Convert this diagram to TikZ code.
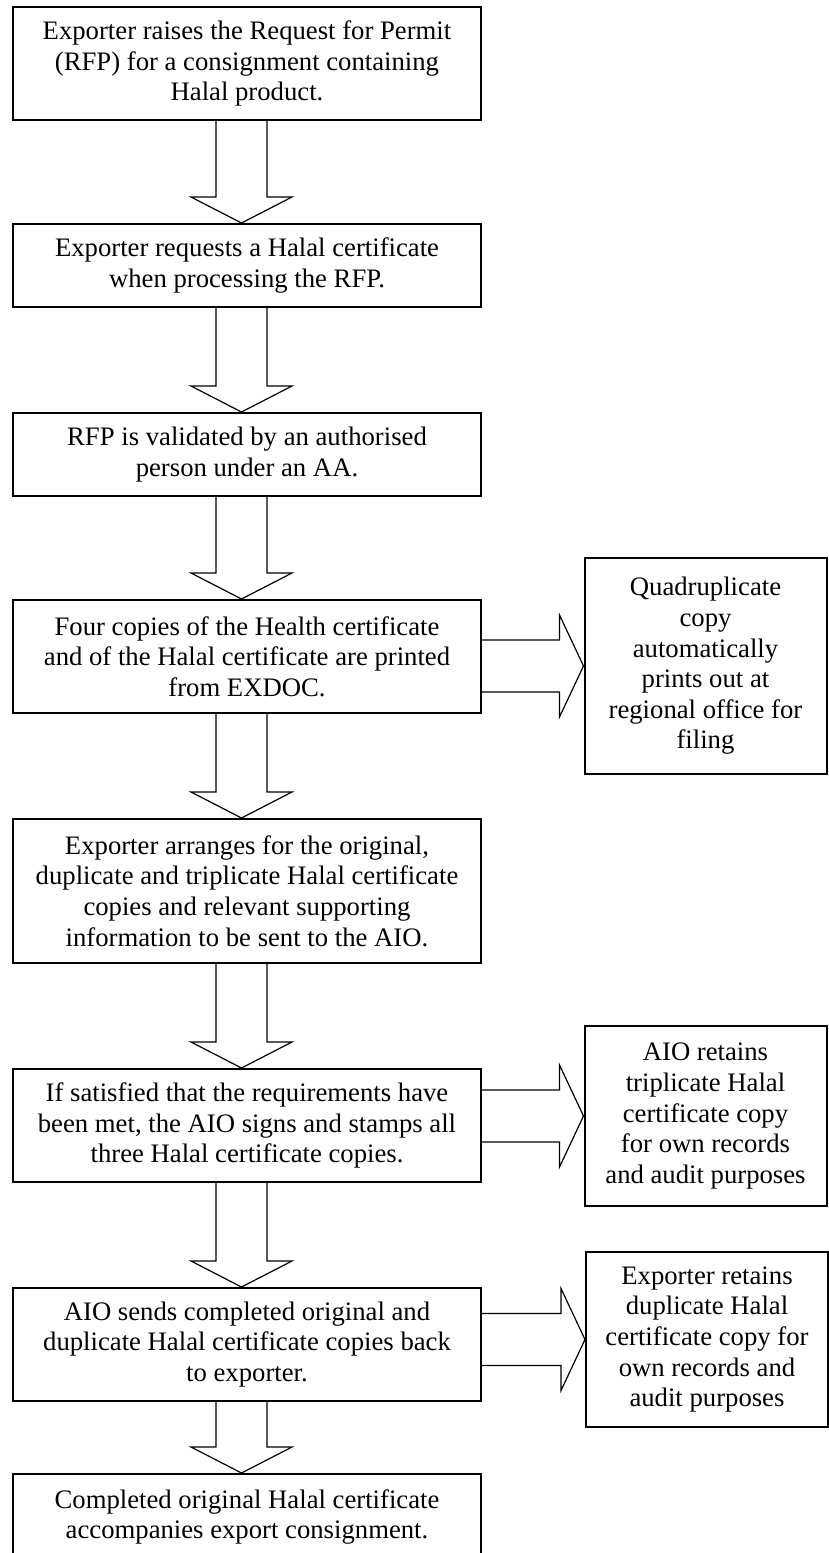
\documentclass[tikz,border=0pt]{standalone}
\usepackage{fontspec}
\setmainfont{Liberation Serif}
\usepackage{tikz}
\usetikzlibrary{calc}

\tikzset{
  mainbox/.style={draw, line width=1pt, minimum width=234pt, inner sep=0pt, align=center,
    font=\fontsize{13.35pt}{15.3pt}\selectfont},
  sidebox/.style={mainbox, minimum width=121pt},
  fatarrow/.style={draw, line width=0.6pt, line join=miter}
}

% block arrow down, from box #1 to box #2
\newcommand{\fatdown}[2]{%
  \draw[fatarrow] let \p1=(#1.south), \p2=(#2.north) in
    (\x1-15.5pt,\y1) -- (\x1-15.5pt,\y2+13pt) -- (\x1-28pt,\y2+13pt) -- (\x1-2.75pt,\y2)
    -- (\x1+22.5pt,\y2+13pt) -- (\x1+10pt,\y2+13pt) -- (\x1+10pt,\y1);}
% block arrow right, from box #1 to side box #2
\newcommand{\fatright}[2]{%
  \draw[fatarrow] let \p1=(#1.east), \p2=(#2.west) in
    (\x1,\y2+13pt) -- (\x2-12pt,\y2+13pt) -- (\x2-12pt,\y2+25.5pt) -- (\p2)
    -- (\x2-12pt,\y2-25.5pt) -- (\x2-12pt,\y2-13pt) -- (\x1,\y2-13pt);}

\begin{document}
\begin{tikzpicture}[x=0.5pt,y=-0.5pt]
\useasboundingbox (0,0) rectangle (829,1553);

\node[mainbox, minimum height=56.5pt] (raise) at (247,63.5)
  {Exporter raises the Request for Permit\\(RFP) for a consignment containing\\Halal product.};
\node[mainbox, minimum height=41.5pt] (request) at (247,265.5)
  {Exporter requests a Halal certificate\\when processing the RFP.};
\node[mainbox, minimum height=41.5pt] (validate) at (247,454.5)
  {RFP is validated by an authorised\\person under an AA.};
\node[mainbox, minimum height=56.5pt] (print) at (247,656.5)
  {Four copies of the Health certificate\\and of the Halal certificate are printed\\from EXDOC.};
\node[mainbox, minimum height=72pt] (arrange) at (247,891)
  {Exporter arranges for the original,\\duplicate and triplicate Halal certificate\\copies and relevant supporting\\information to be sent to the AIO.};
\node[mainbox, minimum height=56.5pt] (sign) at (247,1125.5)
  {If satisfied that the requirements have\\been met, the AIO signs and stamps all\\three Halal certificate copies.};
\node[mainbox, minimum height=56.5pt] (send) at (247,1344.5)
  {AIO sends completed original and\\duplicate Halal certificate copies back\\to exporter.};
\node[mainbox, minimum height=43pt] (accompany) at (247,1517)
  {Completed original Halal certificate\\accompanies export consignment.};

\node[sidebox, minimum height=108pt] (quad) at (705.5,666)
  {Quadruplicate\\copy\\automatically\\prints out at\\regional office for\\filing};
\node[sidebox, minimum height=90pt] (aiokeep) at (705.5,1116)
  {AIO retains\\triplicate Halal\\certificate copy\\for own records\\and audit purposes};
\node[sidebox, minimum height=87.5pt] (expkeep) at (707,1339.5)
  {Exporter retains\\duplicate Halal\\certificate copy for\\own records and\\audit purposes};

\fatdown{raise}{request}
\fatdown{request}{validate}
\fatdown{validate}{print}
\fatdown{print}{arrange}
\fatdown{arrange}{sign}
\fatdown{sign}{send}
\fatdown{send}{accompany}

\fatright{print}{quad}
\fatright{sign}{aiokeep}
\fatright{send}{expkeep}

\end{tikzpicture}
\end{document}
